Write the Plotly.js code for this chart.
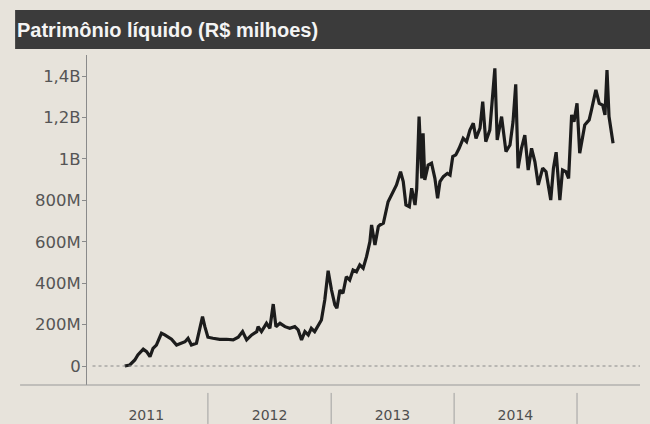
<!DOCTYPE html>
<html>
<head>
<meta charset="utf-8">
<script src="https://cdn.plot.ly/plotly-3.0.1.min.js"></script>
<style>
  html, body { margin: 0; padding: 0; background: #e7e3db; }
  #chart { width: 650px; height: 424px; }
</style>
</head>
<body>
<div id="chart"></div>
<script>
// Patrimônio líquido, R$ milhões
const dates = [
  "2011-04-29","2011-05-14","2011-05-29","2011-06-07","2011-06-23","2011-07-03","2011-07-13","2011-07-22",
  "2011-08-01","2011-08-16","2011-08-26","2011-09-05","2011-09-15","2011-09-30","2011-10-15","2011-10-25",
  "2011-11-03","2011-11-13","2011-11-28","2011-12-08","2011-12-16","2011-12-23","2012-01-01","2012-01-16",
  "2012-02-05","2012-02-25","2012-03-16","2012-03-31","2012-04-13","2012-04-25","2012-05-10","2012-05-25",
  "2012-05-29","2012-06-08","2012-06-23","2012-07-03","2012-07-13","2012-07-21","2012-08-02","2012-08-17",
  "2012-08-31","2012-09-15","2012-09-25","2012-10-05","2012-10-15","2012-10-25","2012-11-03","2012-11-13",
  "2012-11-23","2012-12-03","2012-12-13","2012-12-23","2013-01-02","2013-01-12","2013-01-18","2013-01-27",
  "2013-02-05","2013-02-15","2013-02-25","2013-03-07","2013-03-17","2013-03-27","2013-04-06","2013-04-16",
  "2013-04-26","2013-05-01","2013-05-11","2013-05-21","2013-05-26","2013-06-05","2013-06-19","2013-06-29",
  "2013-07-14","2013-07-26","2013-08-03","2013-08-11","2013-08-21","2013-08-28","2013-09-07","2013-09-12",
  "2013-09-19","2013-09-27","2013-10-01","2013-10-06","2013-10-16","2013-10-26","2013-11-05","2013-11-13",
  "2013-11-20","2013-11-30","2013-12-12","2013-12-20","2013-12-28","2014-01-06","2014-01-16","2014-01-28",
  "2014-02-07","2014-02-17","2014-02-27","2014-03-07","2014-03-19","2014-03-27","2014-04-05","2014-04-17",
  "2014-05-02","2014-05-09","2014-05-22","2014-06-04","2014-06-16","2014-06-25","2014-07-03","2014-07-10",
  "2014-07-20","2014-07-30","2014-08-09","2014-08-19","2014-08-29","2014-09-08","2014-09-21","2014-10-01",
  "2014-10-15","2014-10-23","2014-10-31","2014-11-11","2014-11-19","2014-11-29","2014-12-07","2014-12-16",
  "2014-12-23","2015-01-01","2015-01-09","2015-01-24","2015-02-06","2015-02-13","2015-02-26","2015-03-08",
  "2015-03-18","2015-03-25","2015-03-31","2015-04-06","2015-04-18"
];
const patrimonio = [
  0, 5, 29, 53, 81, 69, 45, 85,
  101, 158, 150, 141, 129, 101, 110, 117,
  134, 101, 110, 174, 238, 190, 139, 134,
  129, 129, 126, 139, 166, 126, 150, 166,
  190, 166, 206, 182, 299, 190, 206, 190,
  182, 190, 174, 126, 166, 150, 182, 166,
  198, 222, 319, 460, 367, 295, 279, 367,
  351, 431, 415, 463, 455, 488, 472, 528,
  600, 681, 584, 673, 681, 689, 793, 826,
  874, 938, 890, 777, 769, 858, 777, 858,
  1204, 906, 1123, 898, 970, 979, 906, 810,
  890, 914, 930, 922, 1011, 1019, 1051, 1099,
  1083, 1139, 1172, 1099, 1148, 1276, 1083, 1139,
  1437, 1091, 1204, 1035, 1067, 1179, 1360, 955,
  1051, 1115, 946, 1051, 986, 874, 955, 938,
  801, 955, 1032, 801, 946, 938, 906, 1212,
  1179, 1268, 1027, 1164, 1188, 1236, 1333, 1268,
  1260, 1212, 1429, 1204, 1075
];

const yTickVals = [0, 200, 400, 600, 800, 1000, 1200, 1400];
const yTickText = ["0", "200M", "400M", "600M", "800M", "1B", "1,2B", "1,4B"];
const yearLabels = ["2011", "2012", "2013", "2014"];
const yearMid = ["2011-07-02", "2012-07-02", "2013-07-02", "2014-07-02"];
const yearBounds = ["2012-01-01", "2013-01-01", "2014-01-01", "2015-01-01"];

const trace = {
  x: dates, y: patrimonio, type: "scatter", mode: "lines",
  line: { color: "#1c1c1c", width: 3.2, shape: "linear" },
  hoverinfo: "x+y"
};

const shapes = [
  // title bar
  { type: "rect", xref: "paper", yref: "paper", x0: -0.130, x1: 1.02, y0: 1.018, y1: 1.136,
    fillcolor: "#3b3b3b", line: { width: 0 }, layer: "below" },
  // dotted zero line
  { type: "line", xref: "paper", yref: "y", x0: 0.01, x1: 1, y0: 0, y1: 0,
    line: { color: "#8a8a8a", width: 1, dash: "dot" } },
  // bottom rule
  { type: "line", xref: "paper", yref: "paper", x0: -0.121, x1: 1, y0: 0, y1: 0,
    line: { color: "#9a9a9a", width: 1.2 } }
];
yearBounds.forEach(d => shapes.push({
  type: "line", xref: "x", yref: "paper", x0: d, x1: d, y0: -0.024, y1: -0.118,
  line: { color: "#a0a0a0", width: 1 }
}));

const layout = {
  width: 650, height: 424,
  margin: { l: 87, r: 10, t: 55, b: 39, pad: 0 },
  paper_bgcolor: "#e7e3db", plot_bgcolor: "#e7e3db",
  font: { family: "DejaVu Sans, Liberation Sans, sans-serif", color: "#555" },
  title: {
    text: "<b>Patrimônio líquido (R$ milhoes)</b>",
    x: 17 / 650, xref: "container", xanchor: "left",
    y: 1 - 30 / 424, yref: "container", yanchor: "middle",
    font: { family: "Liberation Sans, Arial, sans-serif", size: 20, color: "#f4f4f4" }
  },
  showlegend: false,
  xaxis: {
    type: "date",
    range: ["2011-01-07", "2015-07-07"],
    tickvals: yearMid, ticktext: yearLabels,
    ticks: "", showgrid: false, zeroline: false, showline: false,
    tickfont: { size: 14, color: "#4f4f4f" },
    ticklabelstandoff: 20,
    fixedrange: true
  },
  yaxis: {
    range: [-91.7, 1501.4],
    tickvals: yTickVals, ticktext: yTickText,
    ticks: "outside", ticklen: 4, tickcolor: "#8a8a8a", tickwidth: 1,
    showline: true, linecolor: "#8a8a8a", linewidth: 1,
    showgrid: false, zeroline: false,
    tickfont: { size: 16.5, color: "#555" },
    ticklabelstandoff: -2,
    fixedrange: true
  },
  shapes: shapes
};

Plotly.newPlot("chart", [trace], layout, { displayModeBar: false, staticPlot: true });
</script>
</body>
</html>
